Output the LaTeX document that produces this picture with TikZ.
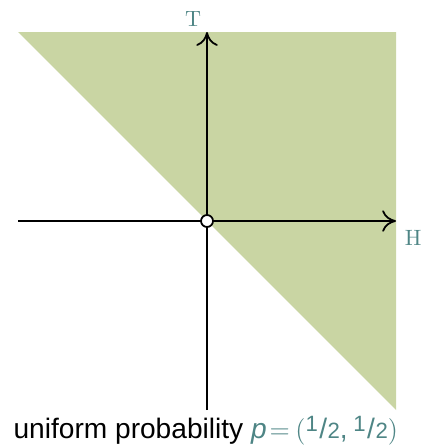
\documentclass[tikz,border=0pt]{standalone}
\usepackage{fontspec}
\setsansfont{Liberation Sans}
\usepackage{tikz}
\usetikzlibrary{arrows.meta,positioning}
\definecolor{region}{HTML}{C9D5A3}
\definecolor{tealtext}{HTML}{4E8585}

\newcommand{\halffrac}{\raisebox{0.5ex}{\fontsize{10}{11}\selectfont 1}\kern0.05em/\kern0.02em{\fontsize{10}{11}\selectfont 2}}

\begin{document}
\begin{tikzpicture}[
  axis/.style={
    draw=black,
    thick,
    -{To[length=2.2mm,width=3.4mm]}
  },
  axislabel/.style={
    text=tealtext,
    font=\normalsize,
    inner sep=1pt
  },
  origin/.style={
    circle,
    draw=black,
    thick,
    fill=white,
    minimum size=0.19cm,
    inner sep=0pt
  },
  caption/.style={
    font=\fontsize{12.7}{15}\sffamily,
    inner sep=0pt
  }
]
\useasboundingbox (-3.286,-3.587) rectangle (3.413,3.508);

% Region
\fill[region] (-3,3) -- (3,3) -- (3,-3) -- cycle;

% Axes
\coordinate (west) at (-3,0);
\coordinate (east) at (3,0);
\coordinate (south) at (0,-3);
\coordinate (north) at (0,3);
\draw[axis] (west) -- (east);
\draw[axis] (south) -- (north);
\node[axislabel, anchor=north west] (hlabel) at (3.1,-0.1) {H};
\node[axislabel, anchor=south east] (tlabel) at (-0.05,3.05) {T};

% Origin
\node[origin] (zero) at (0,0) {};

% Caption
\node[caption] (cap) at (-0.02,-3.33)
  {uniform probability {\color{tealtext}\textit{p}\kern0.1em$=$\kern0.2em$($\halffrac,\kern0.2em\halffrac$)$}};

\end{tikzpicture}
\end{document}
